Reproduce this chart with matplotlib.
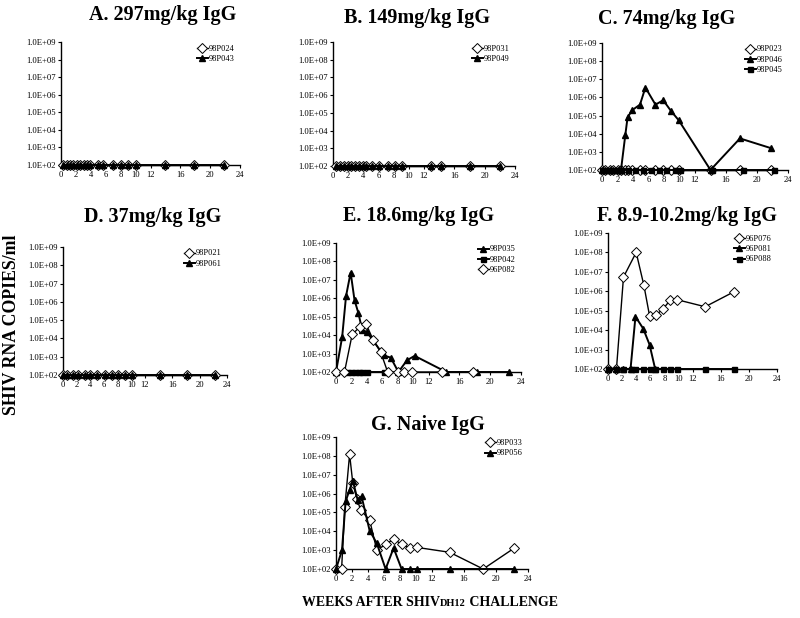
import numpy as np
import matplotlib
matplotlib.use("Agg")
from matplotlib import pyplot as plt
from matplotlib.ticker import FixedLocator, NullLocator

plt.rcParams['font.family'] = ['Liberation Serif', 'DejaVu Serif']

# ---------------- data (weeks after challenge, RNA copies/ml) ----------------
# A. 297mg/kg
a_wk = [0.3, 0.75, 1.2, 1.6, 2.2, 2.6, 3.1, 3.5, 3.9, 5, 5.6, 7, 8, 9, 10, 14, 17.8, 21.8]
a_98P024 = [100, 100, 100, 100, 100, 100, 100, 100, 100, 100, 100, 100, 100, 100, 100, 100, 100, 100]
a_98P043 = [100, 100, 100, 100, 100, 100, 100, 100, 100, 100, 100, 100, 100, 100, 100, 100, 100, 100]
# B. 149mg/kg
b_wk = [0.35, 0.9, 1.4, 2.0, 2.4, 2.9, 3.4, 3.9, 4.3, 5.2, 6.1, 7.2, 8.2, 9.1, 12.9, 14.2, 18.1, 22]
b_98P031 = [100, 100, 100, 100, 100, 100, 100, 100, 100, 100, 100, 100, 100, 100, 100, 100, 100, 100]
b_98P049 = [100, 100, 100, 100, 100, 100, 100, 100, 100, 100, 100, 100, 100, 100, 100, 100, 100, 100]
# C. 74mg/kg
c_wk = [0, 0.45, 1, 1.45, 2, 2.45, 3.0, 3.3, 3.9, 4.9, 5.6, 6.9, 7.9, 8.9, 9.9, 14, 17.8, 21.8]
c_98P023 = [100, 100, 100, 100, 100, 100, 100, 100, 100, 100, 100, 100, 100, 100, 100, 100, 100, 100]
c_98P046 = [100, 100, 100, 100, 100, 100, 8e3, 8e4, 2e5, 4e5, 3.5e6, 4e5, 7e5, 1.8e5, 5.5e4, 100, 5.5e3, 1.6e3]
c_wk_sq = [0, 0.45, 1, 1.45, 2, 2.45, 3.4, 4.3, 5.3, 6.3, 7.3, 8.3, 9.4, 10.1, 14.2, 18.2, 22.2]
c_98P045 = [100, 100, 100, 100, 100, 100, 100, 100, 100, 100, 100, 100, 100, 100, 100, 100, 100]
# D. 37mg/kg
d_wk = [0, 0.6, 1.4, 2.2, 3.2, 4.0, 5.0, 6.1, 7.2, 8.1, 9.1, 10.1, 14.2, 18.2, 22.3]
d_98P021 = [100, 100, 100, 100, 100, 100, 100, 100, 100, 100, 100, 100, 100, 100, 100]
d_98P061 = [100, 100, 100, 100, 100, 100, 100, 100, 100, 100, 100, 100, 100, 100, 100]
# E. 18.6mg/kg
e_wk_tri = [0, 0.8, 1.3, 1.9, 2.4, 2.9, 3.4, 4.0, 6.2, 7.1, 8.1, 9.2, 10.2, 14.3, 18.3, 22.4]
e_98P035 = [100, 8e3, 1.3e6, 2.5e7, 8e5, 1.6e5, 1.9e4, 1.5e4, 8e2, 6e2, 100, 4.3e2, 7.5e2, 100, 100, 100]
e_wk_sq = [0, 1.4, 2.0, 2.4, 3.0, 3.4, 4.0, 6.2]
e_98P042 = [100, 100, 100, 100, 100, 100, 100, 100]
e_wk_dia = [0, 1.1, 2.1, 3.1, 3.9, 4.8, 5.8, 6.7, 8.1, 8.8, 9.8, 13.7, 17.8]
e_96P082 = [100, 100, 1.1e4, 2.8e4, 4e4, 5.8e3, 1.2e3, 100, 100, 100, 100, 100, 100]
# F. 8.9-10.2mg/kg
f_wk_dia = [0, 1.2, 2.2, 4.0, 5.1, 5.9, 6.8, 7.8, 8.8, 9.8, 13.8, 17.9]
f_96P076 = [100, 100, 5.4e6, 1e8, 2e6, 5.5e4, 6e4, 1.2e5, 3.4e5, 3.7e5, 1.6e5, 9.5e5]
f_wk_tri = [0, 1.2, 2.2, 3.2, 3.9, 5.0, 5.9, 6.7]
f_96P081 = [100, 100, 100, 100, 5e4, 1.2e4, 1.8e3, 100]
f_wk_sq = [0, 1.2, 2.2, 3.2, 3.9, 5.0, 5.9, 6.7, 7.8, 8.8, 9.8, 13.8, 17.9]
f_96P088 = [100, 100, 100, 100, 100, 100, 100, 100, 100, 100, 100, 100, 100]
# G. Naive IgG
g_wk_dia = [0, 0.7, 1.1, 1.7, 2.1, 2.6, 3.1, 4.2, 5.1, 6.2, 7.2, 8.2, 9.2, 10.1, 14.2, 18.4, 22.3]
g_98P033 = [100, 100, 1.9e5, 1.2e8, 3.6e6, 5.3e5, 1.3e5, 4e4, 1e3, 2e3, 3.8e3, 2.1e3, 1.3e3, 1.4e3, 7.7e2, 100, 1.3e3]
g_wk_tri = [0, 0.75, 1.2, 1.7, 2.1, 2.7, 3.2, 4.2, 5.1, 6.2, 7.2, 8.2, 9.2, 10.1, 14.2, 22.3]
g_98P056 = [100, 1e3, 3.8e5, 1.6e6, 4.8e6, 4.7e5, 7e5, 1.1e4, 2.3e3, 100, 1.3e3, 100, 100, 100, 100, 100]

x_ticks = [0, 2, 4, 6, 8, 10, 12, 16, 20, 24]
y_ticks = [1e2, 1e3, 1e4, 1e5, 1e6, 1e7, 1e8, 1e9]
y_labels = ['1.0E+02', '1.0E+03', '1.0E+04', '1.0E+05', '1.0E+06', '1.0E+07', '1.0E+08', '1.0E+09']

styles = {
    'dia': dict(marker='D', markersize=4.8, markerfacecolor='white', markeredgecolor='black',
                markeredgewidth=0.7, linewidth=1.0),
    'tri': dict(marker='^', markersize=5.0, markerfacecolor='black', markeredgecolor='black',
                linewidth=1.4),
    'sq': dict(marker='s', markersize=3.6, markerfacecolor='black', markeredgecolor='black',
               linewidth=1.4),
}

# panels: title, title centre (px), axes box in pixels (left, right, top, bottom), series
panels = [
    ('A. 297mg/kg IgG', (163, 15), (61, 240, 42, 165),
     [('98P024', a_wk, a_98P024, 'dia'), ('98P043', a_wk, a_98P043, 'tri')]),
    ('B. 149mg/kg IgG', (417, 18), (333, 515, 42, 166),
     [('98P031', b_wk, b_98P031, 'dia'), ('98P049', b_wk, b_98P049, 'tri')]),
    ('C. 74mg/kg IgG', (667, 19), (602, 788, 43, 170),
     [('98P023', c_wk, c_98P023, 'dia'), ('98P046', c_wk, c_98P046, 'tri'),
      ('98P045', c_wk_sq, c_98P045, 'sq')]),
    ('D. 37mg/kg IgG', (153, 217), (63, 227, 247, 375),
     [('98P021', d_wk, d_98P021, 'dia'), ('98P061', d_wk, d_98P061, 'tri')]),
    ('E. 18.6mg/kg IgG', (419, 216), (336, 521, 243, 372),
     [('98P035', e_wk_tri, e_98P035, 'tri'), ('98P042', e_wk_sq, e_98P042, 'sq'),
      ('96P082', e_wk_dia, e_96P082, 'dia')]),
    ('F. 8.9-10.2mg/kg IgG', (687, 216), (608, 777, 233, 369),
     [('96P076', f_wk_dia, f_96P076, 'dia'), ('96P081', f_wk_tri, f_96P081, 'tri'),
      ('96P088', f_wk_sq, f_96P088, 'sq')]),
    ('G. Naive IgG', (428, 425), (336, 528, 437, 569),
     [('98P033', g_wk_dia, g_98P033, 'dia'), ('98P056', g_wk_tri, g_98P056, 'tri')]),
]

W, H = 800, 618
fig = plt.figure(figsize=(W / 100, H / 100), dpi=100)

for title, (tx, ty), (l, r, t, b), series in panels:
    ax = fig.add_axes([l / W, 1 - b / H, (r - l) / W, (b - t) / H])
    for name, wk, vals, st in series:
        ax.plot(wk, vals, color='black', label=name, clip_on=False, zorder=3, **styles[st])
    ax.set_yscale('log')
    ax.set_ylim(1e2, 1e9)
    ax.set_xlim(0, 24)
    ax.xaxis.set_major_locator(FixedLocator(x_ticks))
    ax.yaxis.set_major_locator(FixedLocator(y_ticks))
    ax.yaxis.set_minor_locator(NullLocator())
    ax.set_yticklabels(y_labels)
    ax.tick_params(labelsize=6.2, length=2.5, width=0.8, direction='out', pad=1.5)
    for s in ['top', 'right']:
        ax.spines[s].set_visible(False)
    for s in ['left', 'bottom']:
        ax.spines[s].set_linewidth(1.0)
    ax.patch.set_alpha(0)
    ax.legend(loc='upper right', bbox_to_anchor=(1.0, 1.02), frameon=False, fontsize=6,
              handlelength=1.4, handletextpad=0.1, labelspacing=0.25, borderaxespad=0.2)
    fig.text(tx / W, 1 - ty / H, title, ha='center', va='center', fontsize=14.5, fontweight='bold')

# y label
fig.text(12 / W, 1 - 325 / H, 'SHIV RNA COPIES/ml', rotation=90, ha='center', va='center',
         fontsize=12.8, fontweight='bold')

# x label, "DH12" set smaller
renderer = fig.canvas.get_renderer()
parts = [('WEEKS AFTER SHIV', 10), ('DH12', 7.5), (' CHALLENGE', 10)]
widths = []
for txt, fs in parts:
    tmp = fig.text(0, 0, txt, fontsize=fs, fontweight='bold')
    widths.append(tmp.get_window_extent(renderer).width)
    tmp.remove()
x = 430 - sum(widths) / 2
for (txt, fs), w in zip(parts, widths):
    fig.text(x / W, 1 - 606 / H, txt, fontsize=fs, fontweight='bold', ha='left', va='baseline')
    x += w

fig.savefig('out.png', dpi=100)
